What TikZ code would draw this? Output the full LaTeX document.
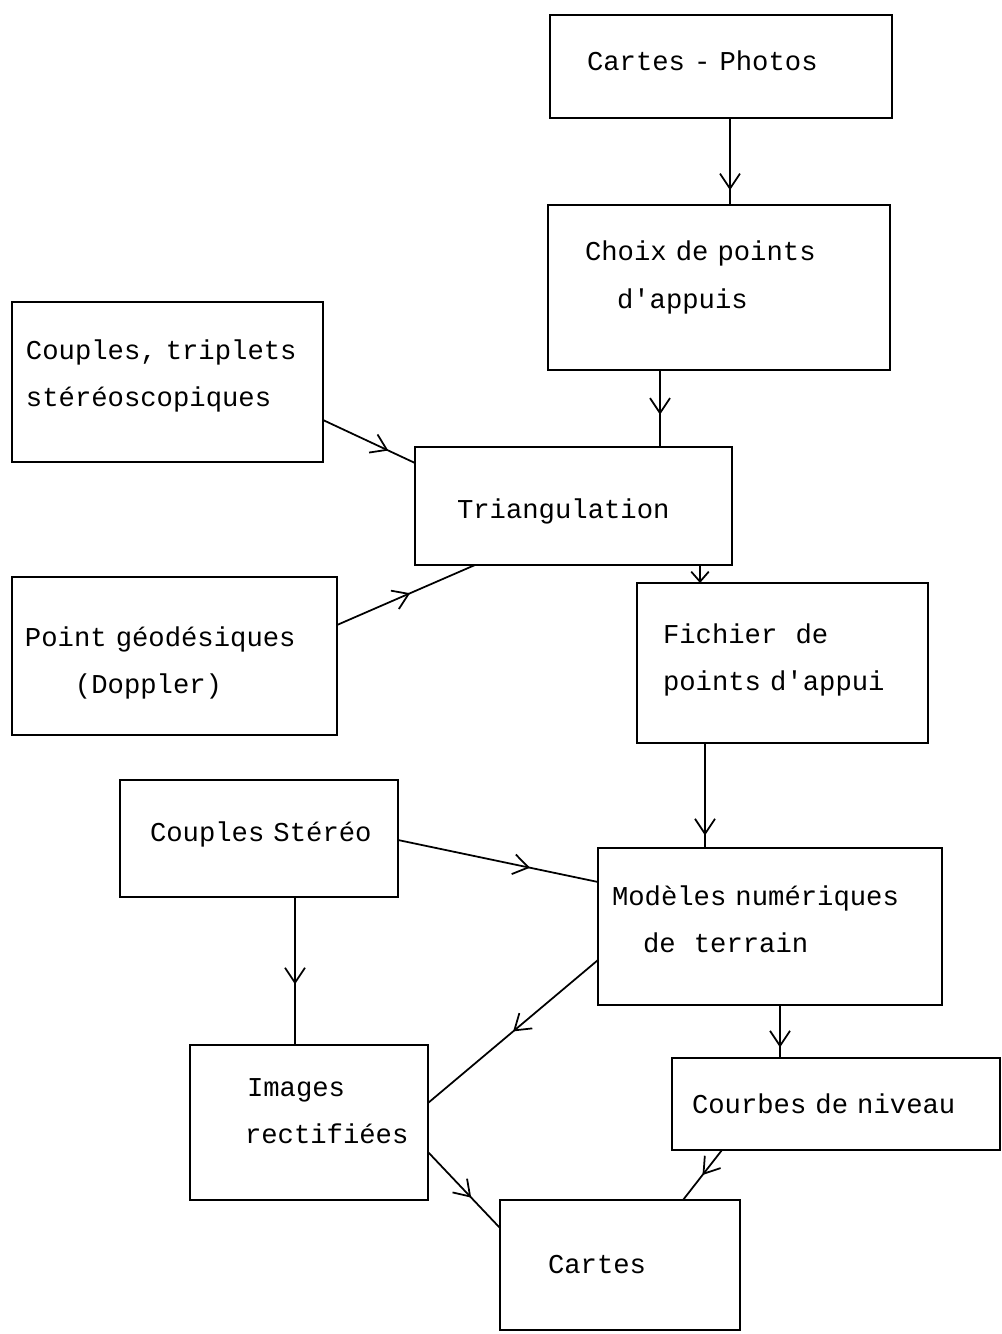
\documentclass[tikz,border=0pt]{standalone}
\usepackage{fontspec}
\setmonofont{Liberation Mono}
\usepackage{tikz}
\usetikzlibrary{positioning}
\usetikzlibrary{arrows.meta}
\usetikzlibrary{decorations.markings}

\begin{document}
\begin{tikzpicture}[
		box/.style={draw, rectangle, line width=1.5pt, align=left, inner xsep=0pt, inner ysep=0pt, outer sep=0pt,
			font=\ttfamily\fontsize{15.5}{27.3}\selectfont\spaceskip 9.3pt\relax},
		flow/.style={line width=1pt, postaction={decorate},
			decoration={markings, mark=at position #1 with {\arrow{Straight Barb[length=3mm,width=4mm]}}}}
	]
		\useasboundingbox (0,0) rectangle (20.04,-26.68);
		\node[box, anchor=north west, text width=6.84cm, text height=1.12cm, text depth=0.94cm] at (11.00,-0.30) (cp) {\hspace*{0.74cm}Cartes - Photos};
		\node[box, below right=1.74cm and -0.04cm of cp.south west, text width=6.84cm, text height=1.12cm, text depth=2.18cm] (choix) {\hspace*{0.74cm}Choix de points\\\hspace*{1.38cm}d'appuis};
		\node[box, below right=1.54cm and -2.66cm of choix.south west, text width=6.34cm, text height=1.42cm, text depth=0.94cm] (tri) {\hspace*{0.84cm}Triangulation};
		\node[box, above left=-0.30cm and 1.84cm of tri.north west, text width=6.22cm, text height=1.14cm, text depth=2.06cm] (couples) {\hspace*{0.28cm}Couples, triplets\\\hspace*{0.28cm}stéréoscopiques};
		\node[box, below right=2.30cm and 0cm of couples.south west, text width=6.50cm, text height=1.38cm, text depth=1.78cm] (point) {\hspace*{0.26cm}Point géodésiques\\\hspace*{1.26cm}(Doppler)};
		\node[box, below right=0.36cm and -1.90cm of tri.south east, text width=5.82cm, text height=1.20cm, text depth=2.00cm] (fichier) {\hspace*{0.52cm}Fichier\ \ de\\\hspace*{0.52cm}points d'appui};
		\node[box, below right=0.90cm and 2.16cm of point.south west, text width=5.56cm, text height=1.22cm, text depth=1.12cm] (stereo) {\hspace*{0.60cm}Couples Stéréo};
		\node[box, below right=2.10cm and -0.78cm of fichier.south west, text width=6.88cm, text height=1.14cm, text depth=2.00cm] (mnt) {\hspace*{0.28cm}Modèles numériques\\\hspace*{0.90cm}de\ \ terrain};
		\node[box, below right=2.96cm and 1.40cm of stereo.south west, text width=4.76cm, text height=1.02cm, text depth=2.08cm] (images) {\hspace*{1.14cm}Images\\\hspace*{1.10cm}rectifiées};
		\node[box, below right=1.06cm and 1.48cm of mnt.south west, text width=6.56cm, text height=1.10cm, text depth=0.74cm] (courbes) {\hspace*{0.40cm}Courbes de niveau};
		\node[box, below right=0cm and 1.44cm of images.south east, text width=4.80cm, text height=1.46cm, text depth=1.14cm] (cartes) {\hspace*{0.96cm}Cartes};
		
		\draw[flow=0.83] ([xshift=3.60cm]cp.south west) -- ([xshift=3.60cm]cp.south west |- choix.north);
		\draw[flow=0.58] ([xshift=2.24cm]choix.south west) -- ([xshift=2.24cm]choix.south west |- tri.north);
		\draw[flow=0.71] ([yshift=-2.36cm]couples.north east) -- ([yshift=-0.32cm]tri.north west);
		\draw[flow=0.53] ([yshift=-0.96cm]point.north east) -- ([xshift=1.20cm]tri.south west);
		\draw[line width=1pt, -{Straight Barb[length=2mm,width=3.5mm]}] ([xshift=5.70cm]tri.south west) -- ([xshift=5.70cm]tri.south west |- fichier.north);
		\draw[flow=0.88] ([xshift=1.36cm]fichier.south west) -- ([xshift=1.36cm]fichier.south west |- mnt.north);
		\draw[flow=0.66] ([yshift=-1.20cm]stereo.north east) -- ([yshift=-0.68cm]mnt.north west);
		\draw[flow=0.59] ([xshift=3.50cm]stereo.south west) -- ([xshift=3.50cm]stereo.south west |- images.north);
		\draw[flow=0.5] ([yshift=-2.24cm]mnt.north west) -- ([yshift=-1.16cm]images.north east);
		\draw[flow=0.8] ([xshift=3.64cm]mnt.south west) -- ([xshift=3.64cm]mnt.south west |- courbes.north);
		\draw[flow=0.6] ([yshift=-2.14cm]images.north east) -- ([yshift=-0.56cm]cartes.north west);
		\draw[flow=0.5] ([xshift=1.00cm]courbes.south west) -- ([xshift=3.66cm]cartes.north west);
	\end{tikzpicture}
\end{document}
